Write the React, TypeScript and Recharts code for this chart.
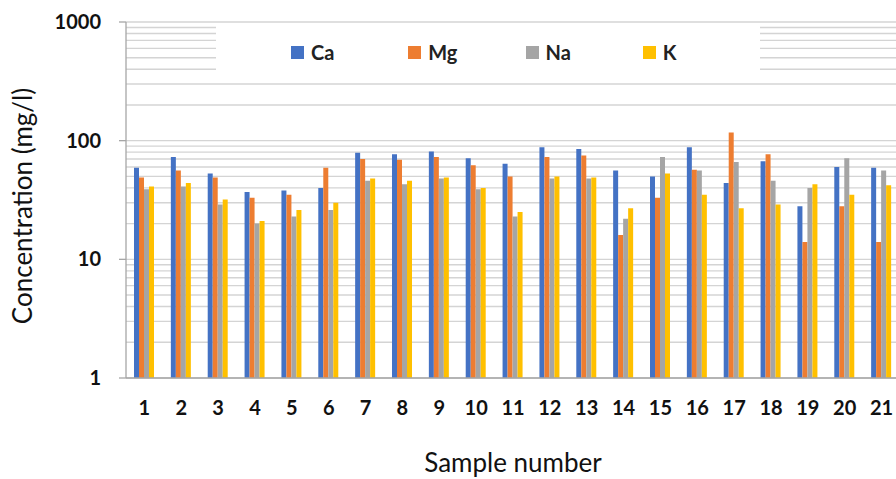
import React from 'react';
import { BarChart, Bar, XAxis, YAxis, CartesianGrid, Legend } from 'recharts';

const samples = ['1', '2', '3', '4', '5', '6', '7', '8', '9', '10', '11', '12', '13', '14', '15', '16', '17', '18', '19', '20', '21'];
const ca = [59, 73, 53, 37, 38, 40, 79, 77, 81, 71, 64, 88, 85, 56, 50, 88, 44, 67, 28, 60, 59];
const mg = [49, 56, 49, 33, 35, 59, 70, 69, 73, 62, 50, 73, 75, 16, 33, 57, 117, 77, 14, 28, 14];
const na = [39, 41, 29, 20, 23, 26, 46, 43, 48, 39, 23, 48, 48, 22, 73, 56, 66, 46, 40, 71, 56];
const k = [41, 44, 32, 21, 26, 30, 48, 46, 49, 40, 25, 50, 49, 27, 53, 35, 27, 29, 43, 35, 42];

const yTicks = [1, 10, 100, 1000];
// minor log grid lines
const gridTicks = [
    1, 2, 3, 4, 5, 6, 7, 8, 9,
    10, 20, 30, 40, 50, 60, 70, 80, 90,
    100, 200, 300, 400, 500, 600, 700, 800, 900, 1000,
];

const series = [
    { key: 'Ca', color: '#4472C4' },
    { key: 'Mg', color: '#ED7D31' },
    { key: 'Na', color: '#A5A5A5' },
    { key: 'K', color: '#FFC000' },
];

const data = samples.map((s, i) => ({ sample: s, Ca: ca[i], Mg: mg[i], Na: na[i], K: k[i] }));

const font = 'Lato, "Open Sans", sans-serif';

const LegendBox = () => (
    <div style={{ display: 'flex', alignItems: 'center', height: '100%', paddingLeft: 75, paddingTop: 6, boxSizing: 'border-box' }}>
        {series.map(s => (
            <div key={s.key} style={{ width: 122, display: 'flex', alignItems: 'center' }}>
                <span style={{ width: 13, height: 13, background: s.color, display: 'inline-block', marginRight: 7 }} />
                <span style={{ fontFamily: font, fontWeight: 700, fontSize: 20, color: '#222' }}>{s.key}</span>
            </div>
        ))}
    </div>
);

const YTitle = (props: any) => {
    const { viewBox } = props;
    const x = viewBox.x + 22;
    const y = viewBox.y + viewBox.height / 2 + 6;
    return (
        <text x={x} y={y} transform={`rotate(-90, ${x}, ${y})`} textAnchor="middle" dominantBaseline="central"
            fill="#111" fontSize={26} fontFamily={font}>
            Concentration (mg/l)
        </text>
    );
};

export default function App() {
    return (
        <div style={{ position: 'fixed', left: 0, top: 0, width: 896, height: 479, overflow: 'hidden', background: '#fff' }}>
            <BarChart
                width={904}
                height={479}
                data={data}
                margin={{ top: 22, right: 4, left: 0, bottom: 0 }}
                barSize={5}
                barGap={0}
            >
                <CartesianGrid vertical={false} stroke="#d4d4d4" strokeWidth={1.4} yAxisId="grid" />
                <XAxis
                    dataKey="sample"
                    height={101}
                    tickLine={false}
                    tickMargin={17}
                    axisLine={{ stroke: '#a6a6a6', strokeWidth: 1.3 }}
                    interval={0}
                    tick={{ fill: '#111', fontSize: 20, fontWeight: 700, fontFamily: font }}
                    label={{ value: 'Sample number', position: 'insideBottom', offset: 7, fill: '#111', fontSize: 26, fontFamily: font }}
                />
                {/* hidden axis only used for the minor grid lines */}
                <YAxis yAxisId="grid" hide scale="log" domain={[1, 1000]} ticks={gridTicks} interval={0} allowDataOverflow />
                <YAxis
                    width={126}
                    scale="log"
                    domain={[1, 1000]}
                    ticks={yTicks}
                    allowDataOverflow
                    tickSize={7}
                    tickMargin={18}
                    tickLine={{ stroke: '#a6a6a6', strokeWidth: 1.3 }}
                    axisLine={{ stroke: '#a6a6a6', strokeWidth: 1.3 }}
                    tick={{ fill: '#111', fontSize: 20, fontWeight: 700, fontFamily: font }}
                    label={{ content: YTitle }}
                />
                <Legend
                    layout="horizontal"
                    verticalAlign="middle"
                    content={() => <LegendBox />}
                    wrapperStyle={{ position: 'absolute', left: 216, top: 23, width: 544, height: 52, background: '#fff' }}
                />
                {series.map(s => (
                    <Bar key={s.key} dataKey={s.key} fill={s.color} isAnimationActive={false} />
                ))}
            </BarChart>
        </div>
    );
}
